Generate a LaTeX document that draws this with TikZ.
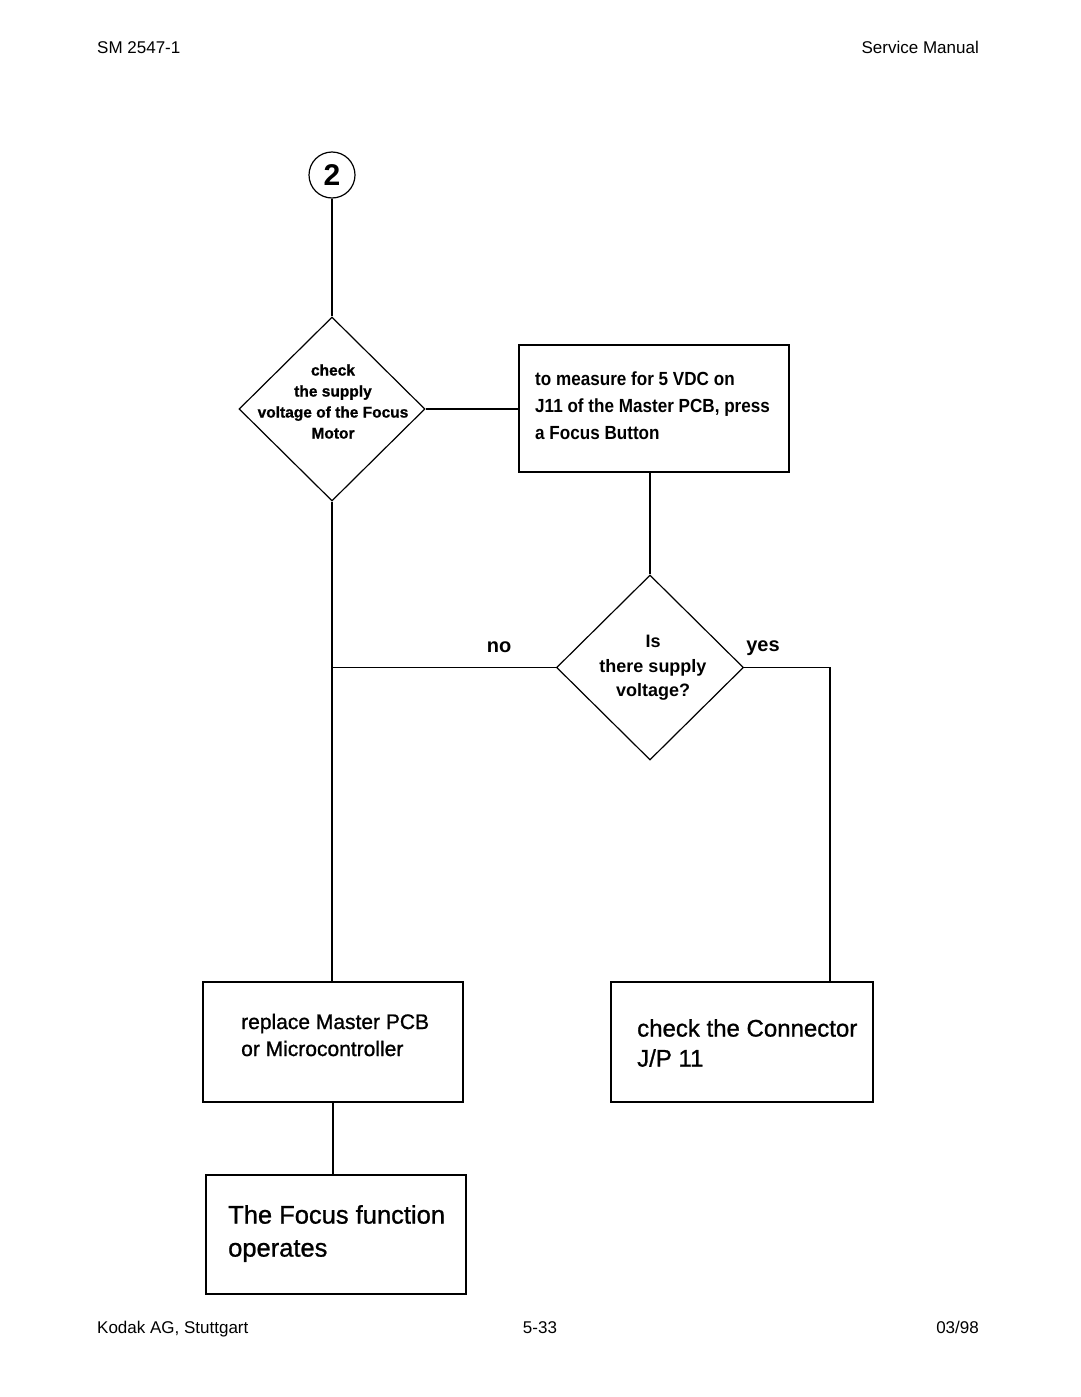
\documentclass[tikz,border=0pt]{standalone}
\usepackage{fontspec}
\setmainfont{Liberation Sans}
\newfontfamily\condfam{Liberation Sans}[FakeStretch=0.9]
\newfontfamily\heavyfam{Liberation Sans}[FakeBold=1]
\usetikzlibrary{shapes.geometric}
\tikzset{
  ln/.style={line width=1.2pt, black},
  boxnode/.style={draw, line width=1.2pt, rectangle, inner sep=0pt},
  dianode/.style={draw, line width=1.2pt, diamond, inner sep=0pt, aspect=1},
  txt/.style={anchor=west, align=left, inner sep=0pt},
  dtxt/.style={align=center, inner sep=0pt},
  hdr/.style={inner sep=0pt, font=\fontsize{17}{20}\selectfont},
  lbl/.style={inner sep=0pt, anchor=base, font=\fontsize{20}{20}\selectfont\bfseries},
}
\begin{document}
\begin{tikzpicture}[x=1pt,y=-1pt]
\useasboundingbox (0,0) rectangle (1080,1397);
\fill[white] (0,0) rectangle (1080,1397);

% header / footer
\node[hdr, anchor=base west] (h1) at (97,54) {SM 2547-1};
\node[hdr, anchor=base east] (h2) at (979,54) {Service Manual};
\node[hdr, anchor=base west] (f1) at (97,1333) {Kodak AG, Stuttgart};
\node[hdr, anchor=base] (f2) at (540,1333) {5-33};
\node[hdr, anchor=base east] (f3) at (979,1333) {03/98};

% connector circle
\node[draw, circle, line width=1.2pt, minimum size=46pt, inner sep=0pt,
      font=\fontsize{30}{30}\selectfont\bfseries] (c2) at (332,175) {2};

% diamonds
\node[dianode, minimum width=186pt, minimum height=184pt] (d1) at (332,409) {};
\node[dtxt, font=\heavyfam\fontsize{15.5}{21}\selectfont\bfseries] (d1t) at (333,401.5)
  {check\\the supply\\voltage of the Focus\\Motor};

\node[dianode, minimum width=187pt, minimum height=185pt] (d2) at (650,667.5) {};
\node[dtxt, font=\fontsize{18}{24.5}\selectfont\bfseries] (d2t) at (653,668)
  {Is\\there supply\\voltage?};

% boxes
\node[boxnode, minimum width=270pt, minimum height=127pt] (b1) at (654,408.5) {};
\node[txt, font=\condfam\bfseries\fontsize{19}{27}\selectfont] (b1t) at (535,406)
  {to measure for 5 VDC on\\J11 of the Master PCB, press\\a Focus Button};

\node[boxnode, minimum width=260pt, minimum height=120pt] (r) at (333,1042) {};
\node[txt, font=\heavyfam\fontsize{21}{27}\selectfont] (rt) at (241,1035)
  {replace Master PCB\\or Microcontroller};

\node[boxnode, minimum width=262pt, minimum height=120pt] (k) at (742,1042) {};
\node[txt, font=\heavyfam\fontsize{24}{30}\selectfont] (kt) at (637,1043)
  {check the Connector\\J/P 11};

\node[boxnode, minimum width=260pt, minimum height=119pt] (f) at (336,1234.5) {};
\node[txt, font=\heavyfam\fontsize{25.5}{33}\selectfont] (ft) at (228,1233.5)
  {The Focus function\\operates};

% labels
\node[lbl] (no) at (499,652) {no};
\node[lbl] (yes) at (763,651) {yes};

% connectors
\coordinate (ktop) at (830,982);
\draw[ln] (c2.south) -- (d1.north);
\draw[ln] (d1.east) -- (d1.east -| b1.west);
\draw[ln] (d2.north |- b1.south) -- (d2.north);
\draw[ln] (d1.south) -- (d1.south |- r.north);
\draw[ln] (d2.west) -- (d2.west -| d1.south);
\draw[ln] (d2.east) -| (ktop);
\draw[ln] (r.south) -- (r.south |- f.north);
\end{tikzpicture}
\end{document}
